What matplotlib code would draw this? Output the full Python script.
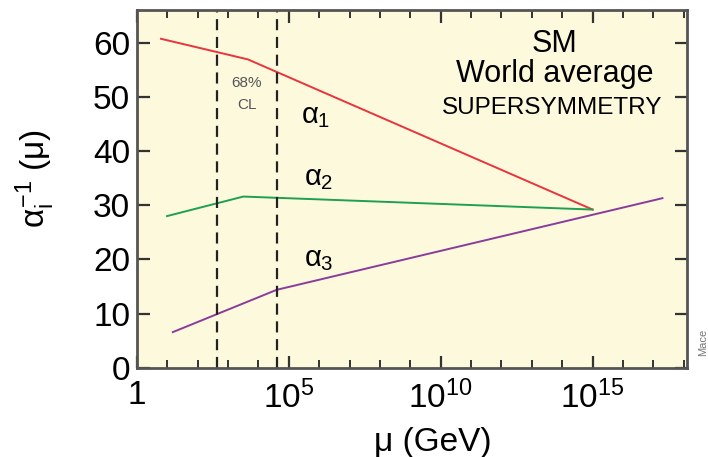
import matplotlib
matplotlib.use("Agg")
import matplotlib.pyplot as plt
from matplotlib.ticker import FixedLocator, NullFormatter

plt.rcParams['font.family'] = ['Liberation Sans', 'DejaVu Sans']
plt.rcParams['mathtext.fontset'] = 'custom'
plt.rcParams['mathtext.rm'] = 'Liberation Sans'
plt.rcParams['mathtext.it'] = 'Liberation Sans'

# running couplings, x in log10(mu/GeV), y = 1/alpha_i
a1_logmu = [0.79, 3.65, 15.0]
a1_inv = [60.7, 56.9, 29.2]
a2_logmu = [0.99, 3.5, 15.0]
a2_inv = [28.0, 31.6, 29.2]
a3_logmu = [1.18, 4.6, 17.3]
a3_inv = [6.6, 14.4, 31.3]

cl_bounds = [2.63, 4.6]  # 68% CL band edges (log10 GeV)

major_x = [0, 5, 10, 15]
major_x_labels = ["1", r"$10^{5}$", r"$10^{10}$", r"$10^{15}$"]
yticks = [0, 10, 20, 30, 40, 50, 60]

fig = plt.figure(figsize=(7.08, 4.57), dpi=100)
ax = fig.add_axes([0.1935, 0.195, 0.7765, 0.783])
ax.set_facecolor("#fdf9dc")

def pw(v):
    return [10.0 ** d for d in v]

ax.plot(pw(a1_logmu), a1_inv, color="#e8343c", lw=1.4)
ax.plot(pw(a2_logmu), a2_inv, color="#1fa050", lw=1.4)
ax.plot(pw(a3_logmu), a3_inv, color="#8a3c9c", lw=1.4)

for b in cl_bounds:
    ax.axvline(10.0 ** b, color="#222222", lw=1.6, linestyle=(0, (5, 3)))

ax.set_xscale("log")
ax.set_xlim(1, 10.0 ** 18.1)
ax.set_ylim(0, 66)

ax.xaxis.set_major_locator(FixedLocator(pw(major_x)))
ax.set_xticklabels(major_x_labels)
ax.xaxis.set_minor_locator(FixedLocator(pw(range(0, 19))))
ax.xaxis.set_minor_formatter(NullFormatter())
ax.set_yticks(yticks)

ax.tick_params(axis="both", which="major", direction="in", length=9, width=1.6,
               color="#333333", labelsize=24, top=True, right=True)
ax.tick_params(axis="x", which="major", pad=9)
ax.tick_params(axis="y", which="major", pad=5)
ax.tick_params(axis="x", which="minor", direction="in", length=5.5, width=1.4,
               color="#333333", top=True)
for s in ax.spines.values():
    s.set_color("#555555")
    s.set_linewidth(2)

ax.set_xlabel("μ (GeV)", fontsize=24)
ax.xaxis.set_label_coords(0.538, -0.165)
ax.set_ylabel(r"$\alpha_i^{-1}$ (μ)", fontsize=24)
ax.yaxis.set_label_coords(-0.145, 0.53)

ax.text(10.0 ** 3.62, 50.5, "68%\nCL", fontsize=11, color="#555555", ha="center",
        va="center", linespacing=1.7)
ax.text(10.0 ** 5.4, 46.5, r"$\alpha_1$", fontsize=21, ha="left", va="center")
ax.text(10.0 ** 5.5, 35.0, r"$\alpha_2$", fontsize=21, ha="left", va="center")
ax.text(10.0 ** 5.5, 20.0, r"$\alpha_3$", fontsize=21, ha="left", va="center")

ax.text(0.76, 0.905, "SM", transform=ax.transAxes, fontsize=22, ha="center", va="center")
ax.text(0.76, 0.82, "World average", transform=ax.transAxes, fontsize=22,
        ha="center", va="center")
ax.text(0.755, 0.727, "SUPERSYMMETRY", transform=ax.transAxes, fontsize=17.5,
        ha="center", va="center")

fig.text(0.993, 0.25, "Mace", rotation=90, fontsize=8, color="#777777",
         ha="center", va="center")

fig.savefig("out.png", dpi=100)
